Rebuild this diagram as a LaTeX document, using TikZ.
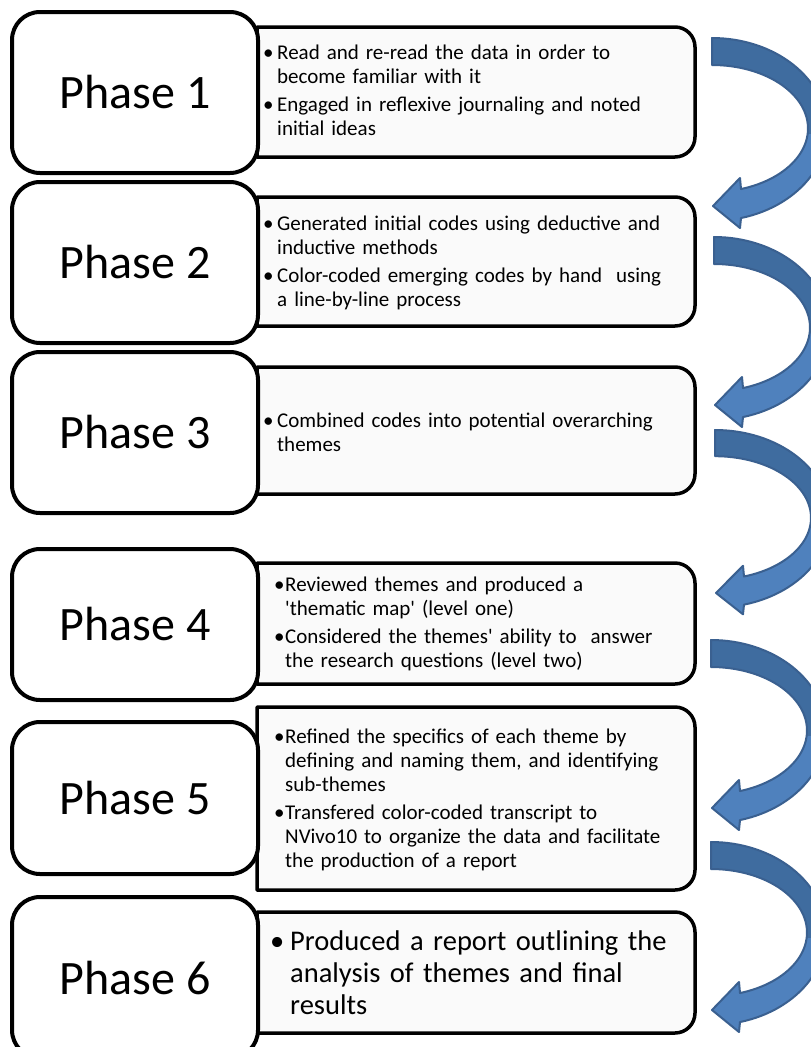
\documentclass[tikz,border=0pt]{standalone}
\usepackage{fontspec}
\setmainfont{Carlito}
\newfontfamily\cf{Carlito}
\definecolor{alight}{HTML}{4F81BD}
\definecolor{adark}{HTML}{3F6C9F}
\definecolor{aline}{HTML}{3A6090}
\definecolor{tfill}{HTML}{FAFAFA}
\newcommand\nl{\hfil\break}
\newcommand\bl[2]{\par\noindent\hangindent=#1\relax\hangafter=1\relax\makebox[#1][l]{•}#2\par}
\newcommand\arrowshape{plot[domain=-90:75.4,samples=60,variable=\t] ({115*cos(\t)},{91.5+91.5*sin(\t)}) -- (28,190) -- (1,168) -- (28,140) -- (29,151) -- plot[domain=72.4:-90,samples=60,variable=\t] ({96*cos(\t)},{90.5+63.5*sin(\t)}) -- cycle}
\newcommand\carrow[3]{%
  \begin{scope}[shift={(#1,#2)},yscale=#3]
    \fill[alight] \arrowshape;
    \begin{scope}
      \clip (-5,-5) rectangle (150,95);
      \fill[adark] \arrowshape;
    \end{scope}
    \draw[aline,line width=2,line join=round] \arrowshape;
  \end{scope}}
\newcommand\tbox[2]{%
  \draw[tboxsty] (257,#1) -- (675,#1) arc[start angle=-90,end angle=0,radius=20] -- (695,{#2-20}) arc[start angle=0,end angle=90,radius=20] -- (257,#2) -- cycle;}
\begin{document}
\begin{tikzpicture}[x=1pt,y=-1pt,
  pbox/.style={draw=black,line width=4,fill=white,rounded corners=28,minimum width=246,minimum height=#1,inner sep=0,font=\cf\fontsize{48}{56}\selectfont},
  ttext/.style={anchor=west,text width=420pt,align=left,inner sep=0,font=\cf\fontsize{21}{24}\selectfont},
  tbig/.style={anchor=west,text width=420pt,align=left,inner sep=0,font=\cf\fontsize{28.5}{32}\selectfont},
  tboxsty/.style={draw=black,line width=3.5,fill=tfill,line join=round}]
\useasboundingbox (0,0) rectangle (811,1047);
\clip (0,0) rectangle (811,1047);
\fill[white] (0,0) rectangle (811,1047);
% text boxes
\tbox{27}{157}
\tbox{197}{326}
\tbox{367}{494}
\tbox{563}{684}
\tbox{707}{890}
\tbox{912}{1033}
% phase boxes
\node[pbox=161] (p1) at (135,92.5) {Phase 1};
\node[pbox=161] (p2) at (135,262.5) {Phase 2};
\node[pbox=161] (p3) at (135,432.5) {Phase 3};
\node[pbox=151] (p4) at (135,624.5) {Phase 4};
\node[pbox=152] (p5) at (135,798) {Phase 5};
\node[pbox=161] (p6) at (135,977.5) {Phase 6};
% texts
\node[ttext] (t1) at (263,86) {\bl{14pt}{Read and re-read the data in order to\nl become familiar with it}\vspace{4pt}\bl{14pt}{Engaged in reflexive journaling and noted\nl initial ideas}};
\node[ttext] (t2) at (263,258) {\bl{14pt}{Generated initial codes using deductive and\nl inductive methods}\vspace{4pt}\bl{14pt}{Color-coded emerging codes by hand\ \ using\nl a line-by-line process}};
\node[ttext] (t3) at (263,428) {\bl{14pt}{Combined codes into potential overarching\nl themes}};
\node[ttext] (t4) at (274,619) {\bl{11pt}{Reviewed themes and produced a\nl 'thematic map' (level one)}\vspace{4pt}\bl{11pt}{Considered the themes' ability to\ \ answer\nl the research questions (level two)}};
\node[ttext] (t5) at (274,795) {\bl{11pt}{Refined the specifics of each theme by\nl defining and naming them, and identifying\nl sub-themes}\vspace{4pt}\bl{11pt}{Transfered color-coded transcript to\nl NVivo10 to organize the data and facilitate\nl the production of a report}};
\node[tbig] (t6) at (270,967) {\bl{20pt}{Produced a report outlining the\nl analysis of themes and final\nl results}};
% curved arrows
\carrow{712}{38}{1}
\carrow{714}{237}{1}
\carrow{715}{430}{0.97}
\carrow{711}{640}{1}
\carrow{711}{842}{1}
\end{tikzpicture}
\end{document}
